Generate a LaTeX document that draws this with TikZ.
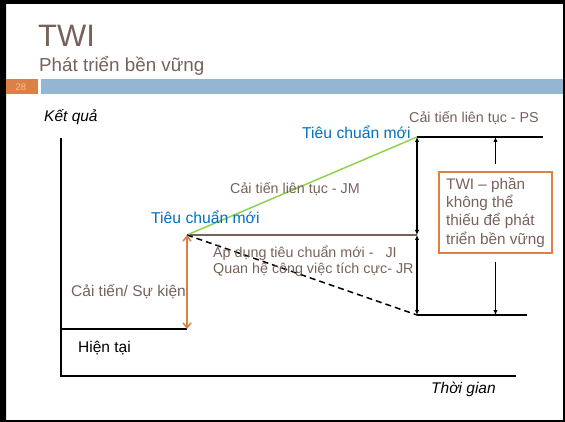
\documentclass[tikz,border=0pt]{standalone}
\usepackage{fontspec}
\setmainfont{Liberation Sans}
\usetikzlibrary{arrows.meta}
\definecolor{txt}{HTML}{76625B}
\definecolor{blu}{HTML}{0070C0}
\definecolor{org}{HTML}{DD8047}
\definecolor{barc}{HTML}{94B6D2}
\definecolor{grn}{HTML}{92D050}
\definecolor{numc}{HTML}{F2C0A0}
\begin{document}
\begin{tikzpicture}[x=1pt,y=-1pt,
  lbl/.style={anchor=base west, inner sep=0pt, text=txt, font=\fontsize{14.3}{16}\selectfont},
  blbl/.style={anchor=base west, inner sep=0pt, text=blu, font=\fontsize{15.7}{17}\selectfont},
  axlbl/.style={anchor=base west, inner sep=0pt, text=black, font=\fontsize{15.5}{17}\selectfont\itshape},
  axline/.style={line width=1.5pt, black},
  varrow/.style={line width=1.1pt, black, {Latex[length=5pt,width=4.5pt]}-{Latex[length=5pt,width=4.5pt]}},
  sarrow/.style={line width=1.1pt, black, -{Latex[length=5pt,width=4.5pt]}}
]
\useasboundingbox (0,0) rectangle (565,422);
% frame
\fill[black, even odd rule] (0,0) rectangle (565,422) (6,4) rectangle (563,420);
% header
\fill[org] (6,79) rectangle (38,94);
\node[text=numc, font=\fontsize{9.5}{9.5}\selectfont, inner sep=0pt] (num) at (21,87) {28};
\fill[barc] (41,79) rectangle (563,94);
\node[anchor=base west, inner sep=0pt, text=txt, font=\fontsize{31}{31}\selectfont] (title) at (38,47) {TWI};
\node[anchor=base west, inner sep=0pt, text=txt, font=\fontsize{18.8}{20}\selectfont] (subtitle) at (39,72) {Phát triển bền vững};
% coordinates
\coordinate (ytop) at (61,138);
\coordinate (orig) at (61,376);
\coordinate (xend) at (516,376);
\coordinate (base0) at (61,329);
\coordinate (A) at (187,329);
\coordinate (B) at (187,235);
\coordinate (C) at (417,137);
\coordinate (D) at (417,235);
\coordinate (E) at (417,315);
\coordinate (Cr) at (543,137);
\coordinate (Er) at (527,315);
% axes
\draw[axline] (ytop) -- (orig) -- (xend);
\draw[axline] (base0) -- (A);
\draw[axline] (C) -- (Cr);
\draw[axline] (E) -- (Er);
\draw[line width=1.5pt, txt] (B) -- (D);
\draw[line width=1.5pt, grn] (B) -- (C);
\draw[line width=1.5pt, black, dash pattern=on 6pt off 4pt] (B) -- (E);
\draw[line width=1.5pt, org, {Straight Barb[length=5pt,width=8pt]}-{Straight Barb[length=5pt,width=8pt]}] (A) -- (B);
\draw[varrow] (C) -- (D);
\draw[varrow] (D) -- (E);
% box
\node[draw=org, line width=1.5pt, text=txt, align=left, inner sep=0pt,
      minimum width=113pt, minimum height=81pt,
      font=\fontsize{15.3}{18.3}\selectfont] (box) at (495.5,212.5)
  {TWI – phần\\không thể\\thiếu để phát\\triển bền vững};
\draw[sarrow] ([yshift=7pt]box.north) -- (box.north |- C);
\draw[sarrow] ([yshift=-8pt]box.south) -- (box.south |- E);
% labels
\node[axlbl] (yl) at (44,122) {Kết quả};
\node[axlbl] (xl) at (431,393) {Thời gian};
\node[anchor=base west, inner sep=0pt, text=black, font=\fontsize{15.5}{17}\selectfont] (now) at (78,352) {Hiện tại};
\node[lbl, font=\fontsize{15.5}{17}\selectfont] (ev) at (71,296) {Cải tiến/ Sự kiện};
\node[lbl] (ps) at (409,123) {Cải tiến liên tục - PS};
\node[blbl] (std1) at (302,139) {Tiêu chuẩn mới};
\node[lbl] (jm) at (230,194) {Cải tiến liên tục - JM};
\node[blbl] (std2) at (151,224) {Tiêu chuẩn mới};
\node[lbl] (ji) at (213,258) {Áp dụng tiêu chuẩn mới -~~ JI};
\node[lbl] (jr) at (213,273) {Quan hệ công việc tích cực- JR};
\end{tikzpicture}
\end{document}
